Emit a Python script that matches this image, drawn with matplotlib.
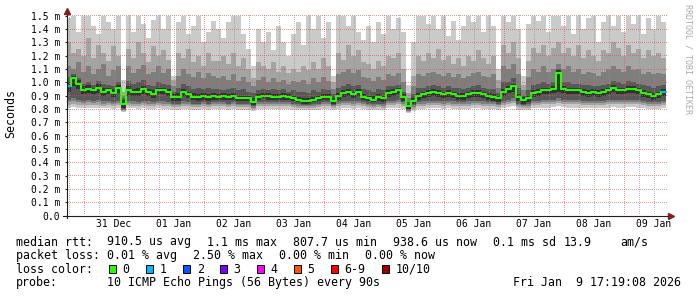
import datetime

import numpy as np
import matplotlib
matplotlib.use("Agg")
import matplotlib.pyplot as plt
import matplotlib.dates as mdates
from matplotlib.lines import Line2D
from matplotlib.patches import Rectangle
from matplotlib.transforms import IdentityTransform

W, H = 697, 297

# 120 columns of 2 hours, 30 Dec 17:19 -> 09 Jan 17:19 (values in ms)
start = datetime.datetime(2025, 12, 30, 17, 19, 8)
step = datetime.timedelta(hours=2)

median = [
    0.97, 1.03, 0.99, 0.94, 0.95, 0.94, 0.96, 0.93, 0.94, 0.92, 0.96, 0.84,
    0.94, 0.93, 0.93, 0.95, 0.93, 0.91, 0.94, 0.94, 0.93, 0.89, 0.89, 0.93,
    0.91, 0.89, 0.89, 0.90, 0.89, 0.90, 0.89, 0.90, 0.89, 0.90, 0.88, 0.88,
    0.88, 0.85, 0.89, 0.90, 0.90, 0.89, 0.89, 0.90, 0.89, 0.88, 0.87, 0.86,
    0.86, 0.87, 0.88, 0.89, 0.89, 0.86, 0.90, 0.92, 0.93, 0.91, 0.93, 0.89,
    0.88, 0.87, 0.89, 0.88, 0.92, 0.93, 0.94, 0.89, 0.82, 0.86, 0.90, 0.91,
    0.92, 0.93, 0.92, 0.91, 0.92, 0.91, 0.90, 0.90, 0.91, 0.92, 0.92, 0.91,
    0.90, 0.89, 0.88, 0.93, 0.95, 0.97, 0.89, 0.87, 0.88, 0.92, 0.93, 0.94,
    0.94, 0.95, 1.07, 0.95, 0.94, 0.94, 0.94, 0.93, 0.92, 0.93, 0.92, 0.93,
    0.94, 0.96, 0.94, 0.94, 0.95, 0.95, 0.94, 0.92, 0.91, 0.90, 0.91, 0.93,
]

# sorted ping levels, p1 lowest ... p10 highest
p1 = [
    0.81, 0.815, 0.81, 0.805, 0.81, 0.805, 0.81, 0.805, 0.805, 0.80, 0.805, 0.775,
    0.805, 0.805, 0.80, 0.805, 0.80, 0.80, 0.805, 0.80, 0.80, 0.795, 0.795, 0.80,
    0.80, 0.795, 0.795, 0.80, 0.795, 0.80, 0.80, 0.80, 0.795, 0.80, 0.795, 0.795,
    0.795, 0.785, 0.80, 0.80, 0.80, 0.80, 0.80, 0.80, 0.80, 0.795, 0.79, 0.79,
    0.79, 0.79, 0.795, 0.80, 0.80, 0.79, 0.80, 0.805, 0.805, 0.80, 0.805, 0.80,
    0.795, 0.79, 0.795, 0.79, 0.805, 0.805, 0.81, 0.80, 0.77, 0.785, 0.80, 0.80,
    0.805, 0.805, 0.805, 0.80, 0.805, 0.80, 0.80, 0.80, 0.80, 0.805, 0.805, 0.80,
    0.80, 0.80, 0.795, 0.805, 0.815, 0.82, 0.795, 0.79, 0.79, 0.805, 0.805, 0.81,
    0.81, 0.815, 0.82, 0.815, 0.81, 0.81, 0.81, 0.805, 0.805, 0.805, 0.805, 0.805,
    0.81, 0.815, 0.81, 0.81, 0.815, 0.815, 0.81, 0.805, 0.80, 0.80, 0.80, 0.805,
]
p2 = [
    0.83, 0.84, 0.83, 0.83, 0.83, 0.83, 0.83, 0.825, 0.83, 0.825, 0.83, 0.785,
    0.83, 0.825, 0.825, 0.83, 0.825, 0.82, 0.83, 0.825, 0.825, 0.815, 0.815, 0.825,
    0.82, 0.815, 0.815, 0.82, 0.815, 0.82, 0.82, 0.82, 0.815, 0.82, 0.815, 0.815,
    0.815, 0.80, 0.82, 0.82, 0.82, 0.82, 0.82, 0.82, 0.82, 0.815, 0.81, 0.805,
    0.805, 0.81, 0.815, 0.82, 0.82, 0.805, 0.82, 0.83, 0.83, 0.825, 0.83, 0.82,
    0.815, 0.81, 0.815, 0.81, 0.83, 0.83, 0.835, 0.82, 0.78, 0.80, 0.82, 0.825,
    0.83, 0.83, 0.83, 0.825, 0.83, 0.825, 0.82, 0.82, 0.825, 0.83, 0.83, 0.825,
    0.82, 0.82, 0.815, 0.83, 0.84, 0.845, 0.815, 0.805, 0.81, 0.83, 0.83, 0.835,
    0.835, 0.84, 0.845, 0.84, 0.835, 0.835, 0.835, 0.83, 0.83, 0.83, 0.83, 0.83,
    0.835, 0.84, 0.835, 0.835, 0.84, 0.84, 0.835, 0.83, 0.825, 0.82, 0.825, 0.83,
]
p3 = [
    0.85, 0.86, 0.85, 0.845, 0.85, 0.845, 0.85, 0.84, 0.845, 0.84, 0.845, 0.79,
    0.845, 0.84, 0.84, 0.845, 0.84, 0.835, 0.845, 0.84, 0.84, 0.83, 0.83, 0.84,
    0.835, 0.83, 0.83, 0.835, 0.83, 0.835, 0.835, 0.835, 0.83, 0.835, 0.83, 0.83,
    0.83, 0.81, 0.835, 0.835, 0.835, 0.835, 0.835, 0.835, 0.835, 0.83, 0.825, 0.82,
    0.82, 0.825, 0.83, 0.835, 0.835, 0.82, 0.835, 0.845, 0.845, 0.84, 0.845, 0.835,
    0.83, 0.825, 0.83, 0.825, 0.845, 0.845, 0.85, 0.835, 0.785, 0.815, 0.835, 0.84,
    0.845, 0.845, 0.845, 0.84, 0.845, 0.84, 0.835, 0.835, 0.84, 0.845, 0.845, 0.84,
    0.835, 0.835, 0.83, 0.845, 0.855, 0.86, 0.83, 0.82, 0.825, 0.845, 0.845, 0.85,
    0.85, 0.855, 0.86, 0.855, 0.85, 0.85, 0.85, 0.845, 0.845, 0.845, 0.845, 0.845,
    0.85, 0.855, 0.85, 0.85, 0.855, 0.855, 0.85, 0.845, 0.84, 0.835, 0.84, 0.845,
]
p4 = [
    0.87, 0.88, 0.87, 0.86, 0.87, 0.86, 0.87, 0.86, 0.86, 0.85, 0.86, 0.80,
    0.86, 0.86, 0.85, 0.86, 0.86, 0.85, 0.86, 0.86, 0.85, 0.84, 0.84, 0.86,
    0.85, 0.84, 0.84, 0.85, 0.84, 0.85, 0.85, 0.85, 0.84, 0.85, 0.84, 0.84,
    0.84, 0.82, 0.85, 0.85, 0.85, 0.85, 0.85, 0.85, 0.85, 0.84, 0.84, 0.83,
    0.83, 0.84, 0.84, 0.85, 0.85, 0.83, 0.85, 0.86, 0.86, 0.86, 0.86, 0.85,
    0.84, 0.84, 0.84, 0.84, 0.86, 0.86, 0.87, 0.85, 0.79, 0.83, 0.85, 0.86,
    0.86, 0.86, 0.86, 0.86, 0.86, 0.86, 0.85, 0.85, 0.86, 0.86, 0.86, 0.86,
    0.85, 0.85, 0.84, 0.86, 0.87, 0.88, 0.84, 0.83, 0.84, 0.86, 0.86, 0.87,
    0.87, 0.87, 0.88, 0.87, 0.87, 0.87, 0.87, 0.86, 0.86, 0.86, 0.86, 0.86,
    0.87, 0.87, 0.87, 0.87, 0.87, 0.87, 0.87, 0.86, 0.85, 0.85, 0.85, 0.86,
]
p5 = [
    0.93, 0.97, 0.95, 0.91, 0.92, 0.91, 0.92, 0.90, 0.91, 0.89, 0.92, 0.81,
    0.90, 0.90, 0.90, 0.91, 0.90, 0.88, 0.91, 0.91, 0.90, 0.86, 0.86, 0.90,
    0.88, 0.87, 0.86, 0.87, 0.86, 0.87, 0.87, 0.87, 0.87, 0.87, 0.86, 0.86,
    0.86, 0.83, 0.87, 0.88, 0.87, 0.87, 0.87, 0.87, 0.87, 0.86, 0.85, 0.84,
    0.84, 0.85, 0.86, 0.87, 0.87, 0.84, 0.87, 0.89, 0.90, 0.88, 0.90, 0.87,
    0.86, 0.85, 0.86, 0.85, 0.89, 0.90, 0.91, 0.86, 0.80, 0.84, 0.87, 0.88,
    0.89, 0.90, 0.89, 0.88, 0.89, 0.88, 0.87, 0.87, 0.88, 0.89, 0.89, 0.88,
    0.87, 0.86, 0.85, 0.90, 0.92, 0.93, 0.86, 0.84, 0.85, 0.89, 0.90, 0.91,
    0.91, 0.92, 0.93, 0.92, 0.91, 0.91, 0.91, 0.90, 0.89, 0.90, 0.89, 0.90,
    0.91, 0.93, 0.91, 0.91, 0.92, 0.92, 0.91, 0.89, 0.88, 0.87, 0.88, 0.90,
]
p6 = [
    1.00, 1.05, 1.02, 0.97, 0.98, 0.96, 0.99, 0.96, 0.96, 0.95, 0.98, 0.87,
    0.97, 0.95, 0.96, 0.97, 0.95, 0.94, 0.96, 0.96, 0.95, 0.91, 0.92, 0.95,
    0.93, 0.92, 0.91, 0.92, 0.91, 0.92, 0.91, 0.92, 0.91, 0.92, 0.90, 0.90,
    0.90, 0.88, 0.91, 0.92, 0.92, 0.91, 0.91, 0.92, 0.91, 0.90, 0.89, 0.88,
    0.88, 0.89, 0.90, 0.91, 0.91, 0.88, 0.92, 0.94, 0.95, 0.93, 0.95, 0.91,
    0.90, 0.90, 0.91, 0.90, 0.94, 0.95, 0.96, 0.91, 0.84, 0.88, 0.92, 0.93,
    0.94, 0.95, 0.94, 0.93, 0.94, 0.93, 0.92, 0.92, 0.93, 0.94, 0.94, 0.93,
    0.92, 0.91, 0.90, 0.95, 0.97, 0.99, 0.91, 0.89, 0.90, 0.94, 0.95, 0.96,
    0.96, 0.97, 1.09, 0.97, 0.96, 0.96, 0.96, 0.95, 0.94, 0.95, 0.94, 0.95,
    0.96, 0.98, 0.96, 0.96, 0.97, 0.97, 0.96, 0.94, 0.93, 0.92, 0.93, 0.95,
]
p7 = [
    1.04, 1.06, 1.03, 0.99, 1.00, 0.98, 1.01, 0.99, 0.98, 0.97, 1.00, 0.88,
    1.01, 0.99, 1.00, 1.02, 0.98, 0.97, 1.00, 0.99, 0.98, 0.93, 0.96, 0.99,
    0.97, 0.95, 0.96, 0.95, 0.96, 0.95, 0.95, 0.94, 0.95, 0.96, 0.94, 0.95,
    0.93, 0.92, 0.94, 0.95, 0.94, 0.95, 0.94, 0.95, 0.93, 0.94, 0.93, 0.93,
    0.92, 0.94, 0.93, 0.95, 0.94, 0.91, 0.96, 0.97, 0.99, 0.97, 0.98, 0.95,
    0.94, 0.93, 0.95, 0.94, 0.97, 0.97, 0.98, 0.93, 0.85, 0.91, 0.96, 0.96,
    0.97, 0.98, 0.97, 0.96, 0.97, 0.96, 0.96, 0.95, 0.96, 0.97, 0.98, 0.96,
    0.95, 0.95, 0.92, 1.00, 1.00, 1.03, 0.96, 0.90, 0.94, 0.98, 0.99, 1.00,
    0.99, 1.00, 1.10, 1.00, 1.00, 0.99, 0.99, 0.98, 0.98, 0.97, 0.97, 0.98,
    0.99, 1.01, 1.00, 0.99, 1.01, 1.00, 0.99, 0.98, 0.97, 0.96, 0.97, 0.98,
]
p8 = [
    1.12, 1.10, 1.15, 1.08, 1.12, 1.06, 1.10, 1.14, 1.05, 1.09, 1.12, 0.90,
    1.12, 1.07, 1.10, 1.13, 1.06, 1.08, 1.12, 1.07, 1.10, 0.97, 1.05, 1.10,
    1.06, 1.04, 1.08, 1.03, 1.07, 1.05, 1.03, 1.05, 1.02, 1.06, 1.01, 1.04,
    1.00, 0.97, 1.02, 1.04, 1.00, 1.03, 1.00, 1.02, 0.99, 1.01, 1.00, 1.02,
    0.99, 1.03, 1.00, 1.04, 1.01, 0.95, 1.06, 1.08, 1.10, 1.07, 1.09, 1.04,
    1.03, 1.01, 1.04, 1.02, 1.06, 1.05, 1.07, 1.00, 0.88, 0.97, 1.06, 1.05,
    1.07, 1.08, 1.06, 1.05, 1.07, 1.04, 1.06, 1.03, 1.05, 1.07, 1.08, 1.05,
    1.04, 1.06, 0.96, 1.12, 1.10, 1.14, 1.06, 0.94, 1.04, 1.10, 1.08, 1.12,
    1.08, 1.10, 1.14, 1.10, 1.12, 1.08, 1.10, 1.06, 1.08, 1.07, 1.05, 1.08,
    1.10, 1.12, 1.10, 1.08, 1.12, 1.09, 1.10, 1.06, 1.08, 1.06, 1.07, 1.06,
]
p9 = [
    1.30, 1.22, 1.25, 1.20, 1.33, 1.18, 1.28, 1.22, 1.16, 1.27, 1.20, 0.93,
    1.25, 1.18, 1.30, 1.22, 1.15, 1.27, 1.20, 1.24, 1.17, 1.02, 1.22, 1.18,
    1.25, 1.15, 1.20, 1.12, 1.22, 1.16, 1.16, 1.20, 1.14, 1.22, 1.12, 1.18,
    1.10, 1.03, 1.15, 1.12, 1.10, 1.15, 1.08, 1.12, 1.07, 1.10, 1.08, 1.12,
    1.09, 1.15, 1.10, 1.18, 1.12, 1.00, 1.22, 1.17, 1.28, 1.20, 1.24, 1.15,
    1.14, 1.10, 1.16, 1.12, 1.20, 1.18, 1.22, 1.10, 0.92, 1.05, 1.20, 1.16,
    1.22, 1.18, 1.25, 1.17, 1.20, 1.14, 1.18, 1.12, 1.20, 1.16, 1.24, 1.18,
    1.14, 1.20, 1.02, 1.28, 1.22, 1.30, 1.18, 0.98, 1.16, 1.26, 1.22, 1.28,
    1.20, 1.26, 1.30, 1.22, 1.26, 1.20, 1.28, 1.18, 1.24, 1.20, 1.16, 1.24,
    1.22, 1.30, 1.26, 1.20, 1.28, 1.22, 1.25, 1.18, 1.24, 1.20, 1.22, 1.18,
]
p10 = [
    1.48, 1.50, 1.38, 1.50, 1.50, 1.42, 1.36, 1.50, 1.45, 1.40, 1.50, 1.02,
    1.50, 1.38, 1.50, 1.44, 1.33, 1.47, 1.50, 1.40, 1.50, 1.05, 1.45, 1.50,
    1.36, 1.42, 1.50, 1.30, 1.38, 1.46, 1.40, 1.33, 1.45, 1.50, 1.50, 1.36,
    1.25, 1.12, 1.40, 1.30, 1.38, 1.24, 1.42, 1.30, 1.20, 1.36, 1.45, 1.28,
    1.50, 1.40, 1.50, 1.33, 1.45, 1.05, 1.50, 1.50, 1.42, 1.50, 1.38, 1.32,
    1.42, 1.30, 1.45, 1.36, 1.50, 1.40, 1.48, 1.38, 0.98, 1.30, 1.50, 1.50,
    1.44, 1.50, 1.40, 1.50, 1.35, 1.46, 1.32, 1.42, 1.50, 1.45, 1.50, 1.38,
    1.50, 1.42, 1.10, 1.50, 1.45, 1.50, 1.40, 1.05, 1.44, 1.50, 1.46, 1.50,
    1.38, 1.50, 1.50, 1.42, 1.50, 1.36, 1.50, 1.40, 1.48, 1.50, 1.30, 1.45,
    1.50, 1.42, 1.50, 1.38, 1.50, 1.44, 1.50, 1.36, 1.48, 1.40, 1.50, 1.45,
]

# columns where one ping was lost
loss_cols = [0, 119]

day_labels = ["31 Dec", "01 Jan", "02 Jan", "03 Jan", "04 Jan",
              "05 Jan", "06 Jan", "07 Jan", "08 Jan", "09 Jan"]
y_labels = ["0.0", "0.1 m", "0.2 m", "0.3 m", "0.4 m", "0.5 m", "0.6 m", "0.7 m",
            "0.8 m", "0.9 m", "1.0 m", "1.1 m", "1.2 m", "1.3 m", "1.4 m", "1.5 m"]

rtt_row = ["median rtt:", "910.5 us avg", "1.1 ms max", "807.7 us min",
           "938.6 us now", "0.1 ms sd", "13.9", "am/s"]
loss_row = ["packet loss:", "0.01 % avg", "2.50 % max", "0.00 % min", "0.00 % now"]
loss_names = ["0", "1", "2", "3", "4", "5", "6-9", "10/10"]
loss_colors = ["#26ff00", "#00b8ff", "#0059ff", "#7e00ff",
               "#ff00ff", "#ff5500", "#ff0000", "#a10000"]
probe_row = ["probe:", "10 ICMP Echo Pings (56 Bytes) every 90s", "Fri Jan  9 17:19:08 2026"]

smoke_colors = ["#cacaca", "#a4a4a4", "#7e7e7e", "#585858", "#323232"]


def fx(x):
    return x / W


def fy(y):
    return 1 - y / H


plt.rcParams["font.family"] = "DejaVu Sans Mono"

fig = plt.figure(figsize=(W / 100, H / 100), dpi=100)
fig.patch.set_facecolor("white")
ax = fig.add_axes([fx(66.5), fy(215.7), 600 / W, 200 / H])

edges = mdates.date2num([start + i * step for i in range(len(median) + 1)])

levels = [p1, p2, p3, p4, p5, p6, p7, p8, p9, p10]
for i, c in enumerate(smoke_colors):
    lo = np.append(levels[i], levels[i][-1])
    hi = np.append(levels[9 - i], levels[9 - i][-1])
    ax.fill_between(edges, lo, hi, step="post", color=c, lw=0, zorder=1)

med = np.append(median, median[-1])
ax.step(edges, med, where="post", color=loss_colors[0], lw=1.5, zorder=3)
for k in loss_cols:
    ax.hlines(median[k], edges[k], edges[k + 1], color=loss_colors[1], lw=1.5, zorder=4)

ax.set_xlim(edges[0], edges[-1])
ax.set_ylim(0, 1.5)
for s in ax.spines.values():
    s.set_visible(False)
ax.set_xticks([])

ax.set_yticks(np.arange(len(y_labels)) / 10)
ax.set_yticklabels(y_labels)
ax.tick_params(axis="y", length=1.5, width=0.8, pad=2.9, labelsize=7,
               direction="out", color="#1f1f1f")

# rrdtool style dotted grid, one pixel on / one off
mgrid = (0.87, 0.31, 0.31, 0.6)
grid = (0.56, 0.56, 0.56, 0.6)
(ax0, ay0), (ax1, ay1) = ax.transAxes.transform([(0, 0), (1, 1)])
xs_pix = np.arange(np.ceil(ax0), ax1, 2) + 0.5
ys_pix = np.arange(np.ceil(ay0) + 1, ay1 + 1, 2) + 0.5


def dotted(xs, ys, c):
    ax.add_line(Line2D(xs, ys, ls="none", marker=",", color=c,
                       transform=IdentityTransform(), zorder=5, clip_on=False))


for v in np.arange(1, len(y_labels)) / 10:
    yp = np.floor(ax.transData.transform((edges[0], v))[1]) + 0.5
    dotted(xs_pix, np.full_like(xs_pix, yp), mgrid)

first_day = datetime.datetime(2025, 12, 31)
for q in range(-1, 40):
    t = first_day + datetime.timedelta(hours=6 * q)
    xn = mdates.date2num(t)
    if xn <= edges[0] or xn >= edges[-1]:
        continue
    xp = np.floor(ax.transData.transform((xn, 0))[0]) + 0.5
    dotted(np.full_like(ys_pix, xp), ys_pix, mgrid if q % 4 == 0 else grid)

ax.set_xlim(edges[0], edges[-1])
ax.set_ylim(0, 1.5)

# day labels centred at noon
first_noon = datetime.datetime(2025, 12, 31, 12, 0)
for i, lab in enumerate(day_labels):
    xn = mdates.date2num(first_noon + datetime.timedelta(days=i))
    ax.annotate(lab, xy=(xn, 0), xycoords=("data", "axes fraction"),
                xytext=(0, -2.6), textcoords="offset points",
                ha="center", va="top", fontsize=7)

# axes lines with arrows
axis_c = "#1f1f1f"
arrow_c = "#801f1f"
fig.add_artist(Line2D([fx(66.5), fx(66.5)], [fy(218), fy(11)], color=axis_c, lw=0.8))
fig.add_artist(Line2D([fx(63), fx(669)], [fy(215.5), fy(215.5)], color=axis_c, lw=0.8))
fig.add_artist(Line2D([fx(66.5)], [fy(10.5)], marker="^", ms=4, color=arrow_c, lw=0))
fig.add_artist(Line2D([fx(670.5)], [fy(215.5)], marker=">", ms=4, color=arrow_c, lw=0))

fig.text(fx(11), fy(114), "Seconds", rotation=90, ha="center", va="center", fontsize=8.4)
fig.text(fx(688), fy(4), "RRDTOOL / TOBI OETIKER", rotation=270, ha="center", va="top",
         fontsize=6, color="#aaaaaa")

# legend
fs = 8.4
rtt_x = [16, 107.3, 207.3, 293.3, 393.3, 493.3, 563.3, 620.7]
for t, x in zip(rtt_row, rtt_x):
    fig.text(fx(x), fy(245.5), t, fontsize=fs, va="baseline")

loss_x = [16, 107.3, 193.3, 279.3, 365.3]
for t, x in zip(loss_row, loss_x):
    fig.text(fx(x), fy(259), t, fontsize=fs, va="baseline")

fig.text(fx(16), fy(272.7), "loss color:", fontsize=fs, va="baseline")
box_x = [108.7, 145.7, 182.7, 219.7, 256.7, 293.7, 330.7, 381.7]
for name, c, bx in zip(loss_names, loss_colors, box_x):
    fig.add_artist(Rectangle((fx(bx), fy(272.8)), 7.4 / W, 7.4 / H, facecolor=c,
                             edgecolor="black", lw=0.7))
    fig.text(fx(bx + 14), fy(272.7), name, fontsize=fs, va="baseline")

probe_x = [16, 107.3, 513.3]
for t, x in zip(probe_row, probe_x):
    fig.text(fx(x), fy(286.3), t, fontsize=fs, va="baseline")

fig.savefig("out.png", dpi=100)
